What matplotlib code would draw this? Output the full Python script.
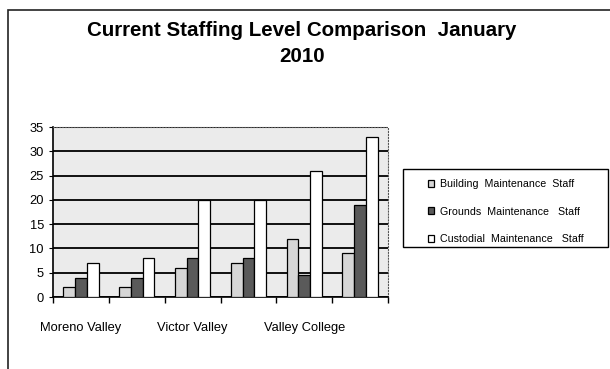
import numpy as np
import matplotlib.pyplot as plt
from matplotlib.patches import Rectangle

plt.rcParams['font.family'] = ['Liberation Sans', 'DejaVu Sans']

# Datos de personal por sitio
sitios = ["Moreno Valley", "", "Victor Valley", "", "Valley College", ""]
building = [2, 2, 6, 7, 12, 9]
grounds = [4, 4, 8, 8, 4.5, 19]
custodial = [7, 8, 20, 20, 26, 33]

series = [
    ("Building  Maintenance  Staff", building, '#d6d6d6'),
    ("Grounds  Maintenance   Staff", grounds, '#5a5a5a'),
    ("Custodial  Maintenance   Staff", custodial, 'white'),
]

fig = plt.figure(figsize=(6.1, 3.69), dpi=100)
# marco exterior del grafico
fig.patches.append(Rectangle((8 / 610, -0.1), 1.2, 1 - 10 / 369 + 0.1,
                             transform=fig.transFigure, fill=False,
                             edgecolor='#222222', linewidth=1.2))

ax = fig.add_axes([53 / 610, 1 - 297 / 369, 335 / 610, 170 / 369])
ax.set_facecolor('#ebebeb')

x = np.arange(len(sitios))
ancho = 0.21
for k, (nombre, valores, color) in enumerate(series):
    ax.bar(x + (k - 1) * ancho, valores, ancho, color=color,
           edgecolor='black', linewidth=0.9, label=nombre, zorder=3)

ax.set_xlim(-0.5, len(sitios) - 0.5)
ax.set_ylim(0, 35)
ax.set_yticks(range(0, 36, 5))
ax.yaxis.grid(True, color='black', linewidth=1.3, zorder=1)
ax.set_axisbelow(True)

ax.set_xticks(x)
ax.set_xticklabels(sitios, fontsize=9.3)
ax.set_xticks(np.arange(-0.5, len(sitios)), minor=True)
ax.tick_params(axis='x', which='major', length=0, pad=18)
ax.tick_params(axis='x', which='minor', length=4, width=1, direction='out')
ax.tick_params(axis='y', labelsize=9.3, length=3, direction='out')

for lado in ['top', 'right']:
    ax.spines[lado].set_linestyle(':')
    ax.spines[lado].set_color('#555555')
ax.spines['left'].set_linewidth(1.2)
ax.spines['bottom'].set_linewidth(1.2)

# leyenda con su recuadro aparte
fig.patches.append(Rectangle((403 / 610, 1 - 247 / 369), 205 / 610, 78 / 369,
                             transform=fig.transFigure, fill=False,
                             edgecolor='black', linewidth=1.0))
fig.legend(loc='upper left', bbox_to_anchor=(428 / 610, 1 - 179 / 369),
           fontsize=7.7, frameon=False,
           handlelength=0.6, handleheight=0.6, handletextpad=0.5,
           labelspacing=1.65, borderpad=0, borderaxespad=0)

fig.text(0.495, 1 - 21 / 369, "Current Staffing Level Comparison  January\n2010",
         ha='center', va='top', fontsize=14.8, fontweight='bold',
         linespacing=1.45)

fig.savefig('out.png', dpi=100)
